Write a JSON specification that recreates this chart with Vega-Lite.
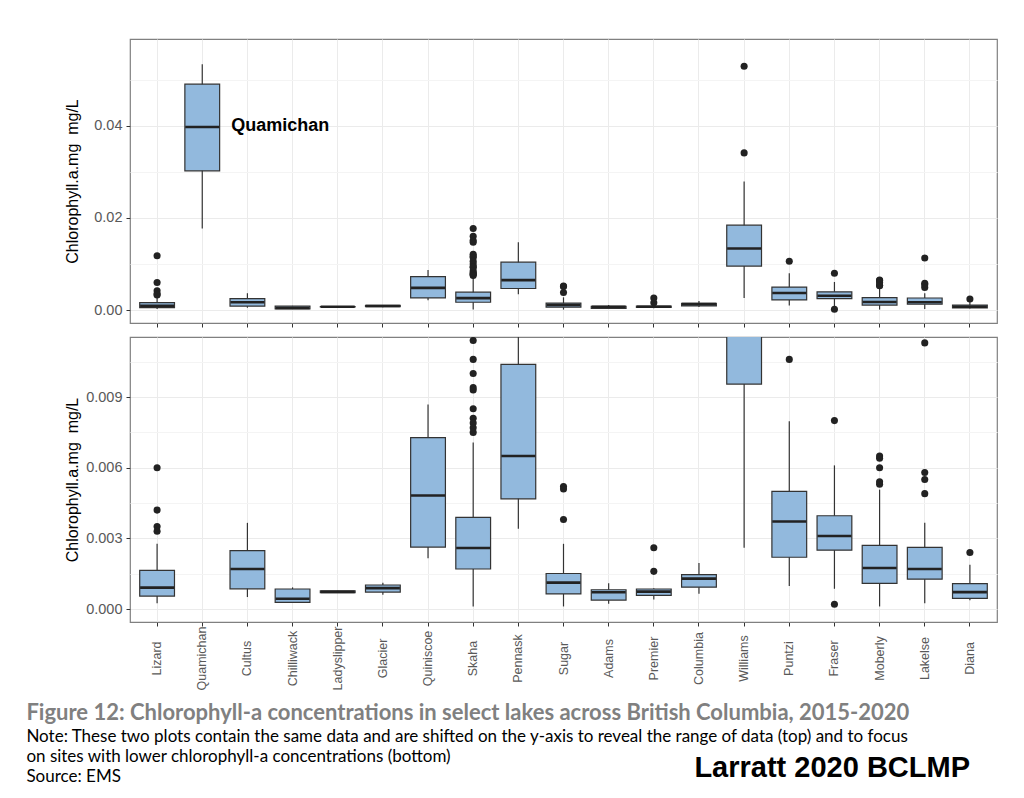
{
  "$schema": "https://vega.github.io/schema/vega-lite/v6.json",
  "autosize": {"type": "pad"},
  "padding": {"left": 26, "top": 38, "right": 0, "bottom": 0},
  "background": "white",
  "datasets": {
    "boxes": [
      {"lake": "Lizard", "lo": 0.00025, "q1": 0.00055, "med": 0.00091, "q3": 0.00164, "hi": 0.00277},
      {"lake": "Quamichan", "lo": 0.0177, "q1": 0.0302, "med": 0.0397, "q3": 0.049, "hi": 0.0533},
      {"lake": "Cultus", "lo": 0.00051, "q1": 0.00086, "med": 0.0017, "q3": 0.00248, "hi": 0.00366},
      {"lake": "Chilliwack", "lo": 0.00026, "q1": 0.00028, "med": 0.00044, "q3": 0.00085, "hi": 0.00092},
      {"lake": "Ladyslipper", "lo": 0.00069, "q1": 0.0007, "med": 0.00073, "q3": 0.00077, "hi": 0.00078},
      {"lake": "Glacier", "lo": 0.00061, "q1": 0.00072, "med": 0.00089, "q3": 0.00102, "hi": 0.00112},
      {"lake": "Quiniscoe", "lo": 0.00216, "q1": 0.00263, "med": 0.00482, "q3": 0.00728, "hi": 0.00868},
      {"lake": "Skaha", "lo": 0.00011, "q1": 0.0017, "med": 0.00259, "q3": 0.00389, "hi": 0.00707},
      {"lake": "Pennask", "lo": 0.00341, "q1": 0.00468, "med": 0.0065, "q3": 0.01039, "hi": 0.0147},
      {"lake": "Sugar", "lo": 0.00011, "q1": 0.00064, "med": 0.00112, "q3": 0.00151, "hi": 0.00277},
      {"lake": "Adams", "lo": 0.00023, "q1": 0.00038, "med": 0.00071, "q3": 0.00082, "hi": 0.0011},
      {"lake": "Premier", "lo": 0.0004, "q1": 0.00058, "med": 0.00074, "q3": 0.00085, "hi": 0.00088},
      {"lake": "Columbia", "lo": 0.00065, "q1": 0.00093, "med": 0.00129, "q3": 0.00146, "hi": 0.00195},
      {"lake": "Williams", "lo": 0.0026, "q1": 0.00955, "med": 0.01335, "q3": 0.01842, "hi": 0.0279},
      {"lake": "Puntzi", "lo": 0.00098, "q1": 0.0022, "med": 0.00372, "q3": 0.005, "hi": 0.00797},
      {"lake": "Fraser", "lo": 0.00086, "q1": 0.0025, "med": 0.0031, "q3": 0.00396, "hi": 0.0061},
      {"lake": "Moberly", "lo": 0.00011, "q1": 0.00109, "med": 0.00174, "q3": 0.0027, "hi": 0.00507},
      {"lake": "Lakelse", "lo": 0.00025, "q1": 0.00127, "med": 0.0017, "q3": 0.00262, "hi": 0.00366},
      {"lake": "Diana", "lo": 0.00037, "q1": 0.00045, "med": 0.00072, "q3": 0.00108, "hi": 0.00188}
    ],
    "outliers": [
      {"lake": "Lizard", "value": 0.0118}, {"lake": "Lizard", "value": 0.006}, {"lake": "Lizard", "value": 0.0042}, {"lake": "Lizard", "value": 0.0035}, {"lake": "Lizard", "value": 0.0033},
      {"lake": "Skaha", "value": 0.0177}, {"lake": "Skaha", "value": 0.016}, {"lake": "Skaha", "value": 0.0151}, {"lake": "Skaha", "value": 0.0147},
      {"lake": "Skaha", "value": 0.0121}, {"lake": "Skaha", "value": 0.0117}, {"lake": "Skaha", "value": 0.0114}, {"lake": "Skaha", "value": 0.0106},
      {"lake": "Skaha", "value": 0.01}, {"lake": "Skaha", "value": 0.0094}, {"lake": "Skaha", "value": 0.0093}, {"lake": "Skaha", "value": 0.0085},
      {"lake": "Skaha", "value": 0.0081}, {"lake": "Skaha", "value": 0.0079}, {"lake": "Skaha", "value": 0.0077}, {"lake": "Skaha", "value": 0.0075},
      {"lake": "Sugar", "value": 0.0052}, {"lake": "Sugar", "value": 0.0051}, {"lake": "Sugar", "value": 0.0038},
      {"lake": "Premier", "value": 0.0026}, {"lake": "Premier", "value": 0.0016},
      {"lake": "Williams", "value": 0.0529}, {"lake": "Williams", "value": 0.0341},
      {"lake": "Puntzi", "value": 0.0106},
      {"lake": "Fraser", "value": 0.008}, {"lake": "Fraser", "value": 0.0002},
      {"lake": "Moberly", "value": 0.0065}, {"lake": "Moberly", "value": 0.0064}, {"lake": "Moberly", "value": 0.006}, {"lake": "Moberly", "value": 0.0054}, {"lake": "Moberly", "value": 0.0053},
      {"lake": "Lakelse", "value": 0.0113}, {"lake": "Lakelse", "value": 0.0058}, {"lake": "Lakelse", "value": 0.0055}, {"lake": "Lakelse", "value": 0.0049},
      {"lake": "Diana", "value": 0.0024}
    ],
    "labels": [
      {"lake": "Quamichan", "value": 0.04, "label": "Quamichan"}
    ]
  },
  "title": {
    "text": "Figure 12: Chlorophyll-a concentrations in select lakes across British Columbia, 2015-2020",
    "subtitle": [
      "Note: These two plots contain the same data and are shifted on the y-axis to reveal the range of data (top) and to focus",
      "on sites with lower chlorophyll-a concentrations (bottom)",
      "Source: EMS"
    ],
    "orient": "bottom",
    "anchor": "start",
    "frame": "bounds",
    "dx": -37,
    "offset": -81,
    "font": "Lato",
    "fontSize": 22,
    "fontWeight": "bold",
    "color": "#808080",
    "subtitleFont": "Lato",
    "subtitleFontSize": 17,
    "subtitleColor": "#000000",
    "subtitleLineHeight": 20,
    "subtitlePadding": 4
  },
  "spacing": 7,
  "vconcat": [
    {
      "width": 867,
      "height": 284,
      "layer": [
        {
          "data": {"name": "boxes"},
          "mark": {"type": "rule", "color": "#333333", "strokeWidth": 1.2, "clip": true},
          "encoding": {
            "x": {"field": "lake", "type": "nominal", "scale": {"domain": ["Lizard","Quamichan","Cultus","Chilliwack","Ladyslipper","Glacier","Quiniscoe","Skaha","Pennask","Sugar","Adams","Premier","Columbia","Williams","Puntzi","Fraser","Moberly","Lakelse","Diana"], "paddingInner": 0, "paddingOuter": 0.1}, "axis": {"labels": false, "ticks": true, "tickSize": 4, "grid": true, "bandPosition": 0.5, "title": null}},
            "y": {"field": "lo", "type": "quantitative", "scale": {"domain": [-0.0028, 0.0588], "nice": false, "zero": false}, "title": "Chlorophyll.a.mg\u00a0 mg/L",
              "axis": {"values": [0, 0.01, 0.02, 0.03, 0.04, 0.05], "format": ".2f", "labelExpr": "indexof([0.01,0.03,0.05], datum.value) >= 0 ? '' : datum.label", "tickOpacity": {"condition": {"test": "indexof([0.01,0.03,0.05], datum.value) >= 0", "value": 0}, "value": 1}, "gridColor": {"condition": {"test": "indexof([0.01,0.03,0.05], datum.value) >= 0", "value": "#f4f4f4"}, "value": "#ebebeb"}, "minExtent": 42, "maxExtent": 42, "titlePadding": 8}},
            "y2": {"field": "hi"}
          }
        },
        {
          "data": {"name": "boxes"},
          "mark": {"type": "bar", "fill": "#92b9dd", "stroke": "#333333", "strokeWidth": 1.2, "width": {"band": 0.77}, "clip": true},
          "encoding": {
            "x": {"field": "lake", "type": "nominal"},
            "y": {"field": "q1", "type": "quantitative"},
            "y2": {"field": "q3"}
          }
        },
        {
          "data": {"name": "boxes"},
          "mark": {"type": "tick", "color": "#222222", "size": 34, "thickness": 2.6, "opacity": 1, "clip": true},
          "encoding": {
            "x": {"field": "lake", "type": "nominal"},
            "y": {"field": "med", "type": "quantitative"}
          }
        },
        {
          "data": {"name": "outliers"},
          "mark": {"type": "circle", "color": "#222222", "size": 50, "opacity": 1, "clip": true},
          "encoding": {
            "x": {"field": "lake", "type": "nominal"},
            "y": {"field": "value", "type": "quantitative"}
          }
        },
        {
          "data": {"name": "labels"},
          "mark": {"type": "text", "font": "Liberation Sans", "fontSize": 18, "fontWeight": "bold", "align": "left", "baseline": "middle", "dx": 29, "color": "#000000"},
          "encoding": {
            "x": {"field": "lake", "type": "nominal"},
            "y": {"field": "value", "type": "quantitative"},
            "text": {"field": "label"}
          }
        }
      ]
    },
    {
      "width": 867,
      "height": 285,
      "title": {"text": "Larratt 2020 BCLMP", "orient": "bottom", "anchor": "end", "frame": "group", "dx": -27, "offset": 64, "font": "Liberation Sans", "fontSize": 29, "fontWeight": "bold", "color": "#000000"},
      "layer": [
        {
          "data": {"name": "boxes"},
          "mark": {"type": "rule", "color": "#333333", "strokeWidth": 1.2, "clip": true},
          "encoding": {
            "x": {"field": "lake", "type": "nominal", "scale": {"domain": ["Lizard","Quamichan","Cultus","Chilliwack","Ladyslipper","Glacier","Quiniscoe","Skaha","Pennask","Sugar","Adams","Premier","Columbia","Williams","Puntzi","Fraser","Moberly","Lakelse","Diana"], "paddingInner": 0, "paddingOuter": 0.1}, "axis": {"labels": true, "labelAngle": -90, "labelAlign": "center", "labelBaseline": "middle", "labelPadding": 32, "labelFontSize": 12.5, "labelOverlap": false, "labelFlush": false, "ticks": true, "tickSize": 4, "grid": true, "bandPosition": 0.5, "title": null}},
            "y": {"field": "lo", "type": "quantitative", "scale": {"domain": [-0.00055, 0.01155], "nice": false, "zero": false}, "title": "Chlorophyll.a.mg\u00a0 mg/L",
              "axis": {"values": [0, 0.0015, 0.003, 0.0045, 0.006, 0.0075, 0.009, 0.0105], "format": ".3f", "labelExpr": "indexof([0.0015,0.0045,0.0075,0.0105], datum.value) >= 0 ? '' : datum.label", "tickOpacity": {"condition": {"test": "indexof([0.0015,0.0045,0.0075,0.0105], datum.value) >= 0", "value": 0}, "value": 1}, "gridColor": {"condition": {"test": "indexof([0.0015,0.0045,0.0075,0.0105], datum.value) >= 0", "value": "#f4f4f4"}, "value": "#ebebeb"}, "minExtent": 42, "maxExtent": 42, "titlePadding": 8}},
            "y2": {"field": "hi"}
          }
        },
        {
          "data": {"name": "boxes"},
          "mark": {"type": "bar", "fill": "#92b9dd", "stroke": "#333333", "strokeWidth": 1.2, "width": {"band": 0.77}, "clip": true},
          "encoding": {
            "x": {"field": "lake", "type": "nominal"},
            "y": {"field": "q1", "type": "quantitative"},
            "y2": {"field": "q3"}
          }
        },
        {
          "data": {"name": "boxes"},
          "mark": {"type": "tick", "color": "#222222", "size": 34, "thickness": 2.6, "opacity": 1, "clip": true},
          "encoding": {
            "x": {"field": "lake", "type": "nominal"},
            "y": {"field": "med", "type": "quantitative"}
          }
        },
        {
          "data": {"name": "outliers"},
          "mark": {"type": "circle", "color": "#222222", "size": 50, "opacity": 1, "clip": true},
          "encoding": {
            "x": {"field": "lake", "type": "nominal"},
            "y": {"field": "value", "type": "quantitative"}
          }
        }
      ]
    }
  ],
  "config": {
    "font": "Liberation Sans",
    "view": {"stroke": "#808080", "strokeWidth": 1.2},
    "axis": {
      "domain": false,
      "gridColor": "#ebebeb",
      "gridWidth": 1,
      "tickColor": "#333333",
      "tickSize": 4,
      "labelColor": "#595959",
      "labelFont": "Liberation Sans",
      "labelFontSize": 14.5,
      "labelPadding": 4,
      "titleFont": "Liberation Sans",
      "titleColor": "#000000",
      "titleFontSize": 16,
      "titleFontWeight": "normal"
    }
  }
}
